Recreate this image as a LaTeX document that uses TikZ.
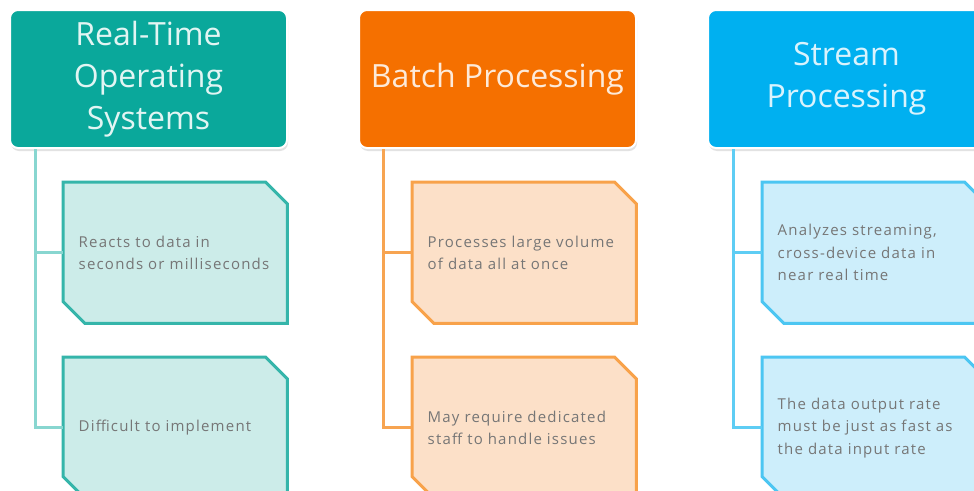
\documentclass[tikz,border=0pt]{standalone}
\usepackage{fontspec}
\setmainfont{Open Sans}
\newfontfamily\bodyfont[LetterSpace=8]{Open Sans}
\usetikzlibrary{shadows}

% header fills, connector lines, card borders and card fills
\definecolor{tealH}{HTML}{0AA89B}
\definecolor{tealL}{HTML}{88D6D0}
\definecolor{tealB}{HTML}{35B5AA}
\definecolor{tealF}{HTML}{CCECE9}
\definecolor{orH}{HTML}{F57000}
\definecolor{orL}{HTML}{F7A451}
\definecolor{orB}{HTML}{F8A24A}
\definecolor{orF}{HTML}{FCE0C8}
\definecolor{blH}{HTML}{00B0F0}
\definecolor{blL}{HTML}{5ECDF4}
\definecolor{blB}{HTML}{4CC6F2}
\definecolor{blF}{HTML}{CDEEFB}
\definecolor{txt}{HTML}{767676}

\pgfdeclarelayer{paper}
\pgfdeclarelayer{cards}
\pgfsetlayers{paper,cards,main}

\begin{document}
\begin{tikzpicture}[x=1pt,y=-1pt,
  head/.style={rounded corners=8pt, minimum width=277pt, minimum height=138pt,
    inner sep=0pt, draw=white, line width=2pt, align=center, anchor=north west,
    font=\fontsize{32}{42}\selectfont,
    drop shadow={shadow xshift=1pt, shadow yshift=-3pt, fill=black!22}},
  card/.style={rectangle, minimum width=224pt, minimum height=141pt,
    inner xsep=15.5pt, inner ysep=0pt, text width=193pt, align=left, text=txt,
    font=\bodyfont\fontsize{15}{22.5}\selectfont, anchor=north west},
  cardedge/.style={line width=3pt, line join=miter},
  conn/.style={line width=3pt}
]
\begin{pgfonlayer}{paper}
  \fill[white] (0,0) rectangle (974,490);
\end{pgfonlayer}
\useasboundingbox (0,0) rectangle (974,490);
\clip (0,0) rectangle (974,490);

% column headers
\node[head, fill=tealH, text=white!88!tealH] (h1) at (9,9) {Real-Time\\Operating\\Systems};
\node[head, fill=orH, text=white!85!orH] (h2) at (358,9) {Batch Processing};
\node[head, fill=blH, text=white!85!blH] (h3) at (707,9) {Stream\\Processing};

% detail cards (text; the clipped-corner outlines go underneath)
\node[card] (b1) at (63,182) {Reacts to data in\\seconds or milliseconds};
\node[card] (b2) at (63,357) {Difficult to implement};
\node[card] (b3) at (412,182) {Processes large volume\\of data all at once};
\node[card] (b4) at (412,357) {May require dedicated\\staff to handle issues};
\node[card] (b5) at (762,182) {Analyzes streaming,\\cross-device data in\\near real time};
\node[card] (b6) at (762,357) {The data output rate\\must be just as fast as\\the data input rate};

\begin{pgfonlayer}{cards}
  \foreach \b/\e/\f in {b1/tealB/tealF, b2/tealB/tealF, b3/orB/orF,
                        b4/orB/orF, b5/blB/blF, b6/blB/blF}{
    \draw[cardedge, draw=\e, fill=\f]
      (\b.north west) -- ([xshift=-22pt]\b.north east)
      -- ([yshift=-22pt]\b.north east) -- (\b.south east)
      -- ([xshift=22pt]\b.south west) -- ([yshift=22pt]\b.south west) -- cycle;
  }
\end{pgfonlayer}

% tree connectors
\draw[conn, draw=tealL] ([xshift=26pt]h1.south west) |- (b1.west);
\draw[conn, draw=tealL] ([xshift=26pt]h1.south west) |- (b2.west);
\draw[conn, draw=orL] ([xshift=25pt]h2.south west) |- (b3.west);
\draw[conn, draw=orL] ([xshift=25pt]h2.south west) |- (b4.west);
\draw[conn, draw=blL] ([xshift=26pt]h3.south west) |- (b5.west);
\draw[conn, draw=blL] ([xshift=26pt]h3.south west) |- (b6.west);
\end{tikzpicture}
\end{document}
